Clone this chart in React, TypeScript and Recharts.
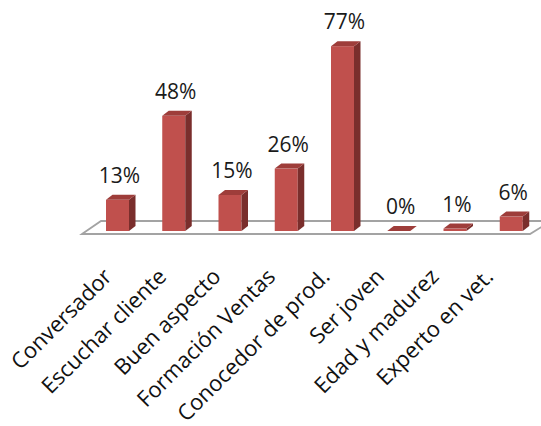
import { Bar, BarChart, LabelList, ReferenceLine, XAxis, YAxis } from "recharts";

const categories = [
    "Conversador",
    "Escuchar cliente",
    "Buen aspecto",
    "Formación Ventas",
    "Conocedor de prod.",
    "Ser joven",
    "Edad y madurez",
    "Experto en vet.",
];
const percentages = [13, 48, 15, 26, 77, 0, 1, 6];

const data = categories.map((name, i) => ({ name, value: percentages[i] }));

const FONT = "'Open Sans', sans-serif";
const DX = 6.5;
const DY = 5;

const Bar3D = (props: any) => {
    const { x, y, width, height } = props;
    const top = `${x},${y} ${x + DX},${y - DY} ${x + width + DX},${y - DY} ${x + width},${y}`;
    const side = `${x + width},${y} ${x + width + DX},${y - DY} ${x + width + DX},${y + height - DY} ${x + width},${y + height}`;
    return (
        <g>
            <rect x={x} y={y} width={width} height={Math.max(height, 0)} fill="#c0504d" />
            <polygon points={side} fill="#7a2e2c" />
            <polygon points={top} fill="#9e3d3a" />
        </g>
    );
};

// floor plane under the bars, built from the y=0 reference line
const Floor = (props: any) => {
    const { x1, y1, x2 } = props;
    const pts = `${x1 - 7},${y1 + 3} ${x1 + 12},${y1 - 10} ${x2 + 12},${y1 - 10} ${x2 - 9},${y1 + 3}`;
    return <polygon points={pts} fill="#ffffff" stroke="#a3a3a3" strokeWidth={1.8} />;
};

const ValueLabel = (props: any) => {
    const { x, y, width, value } = props;
    return (
        <text x={x + width / 2 + 2} y={y - 17} textAnchor="middle" fontSize={21} fontFamily={FONT} fill="#1a1a1a">
            {`${value}%`}
        </text>
    );
};

// labels sit on the front edge of the floor, which is a bit narrower than the bar row
const CategoryTick = (props: any) => {
    const { x, y, payload, index } = props;
    const ax = x - 4 - 1.75 * index;
    const ay = y + 47;
    return (
        <text x={ax} y={ay} textAnchor="end" fontSize={22} fontFamily={FONT} fill="#111" transform={`rotate(-45, ${ax}, ${ay})`}>
            {payload.value}
        </text>
    );
};

export default function App() {
    return (
        <div style={{ position: "absolute", left: 0, top: 0, background: "#fff" }}>
            <BarChart width={541} height={426} data={data} margin={{ top: 39, right: 2, left: 89, bottom: 0 }} barCategoryGap={0}>
                <YAxis hide domain={[0, 80]} />
                <XAxis dataKey="name" height={195} axisLine={false} tickLine={false} tickSize={0} tickMargin={0} interval={0} tick={<CategoryTick />} />
                <ReferenceLine y={0} shape={<Floor />} zIndex={-100} ifOverflow="visible" />
                <Bar dataKey="value" barSize={23} shape={<Bar3D />} isAnimationActive={false}>
                    <LabelList dataKey="value" content={<ValueLabel />} />
                </Bar>
            </BarChart>
        </div>
    );
}
